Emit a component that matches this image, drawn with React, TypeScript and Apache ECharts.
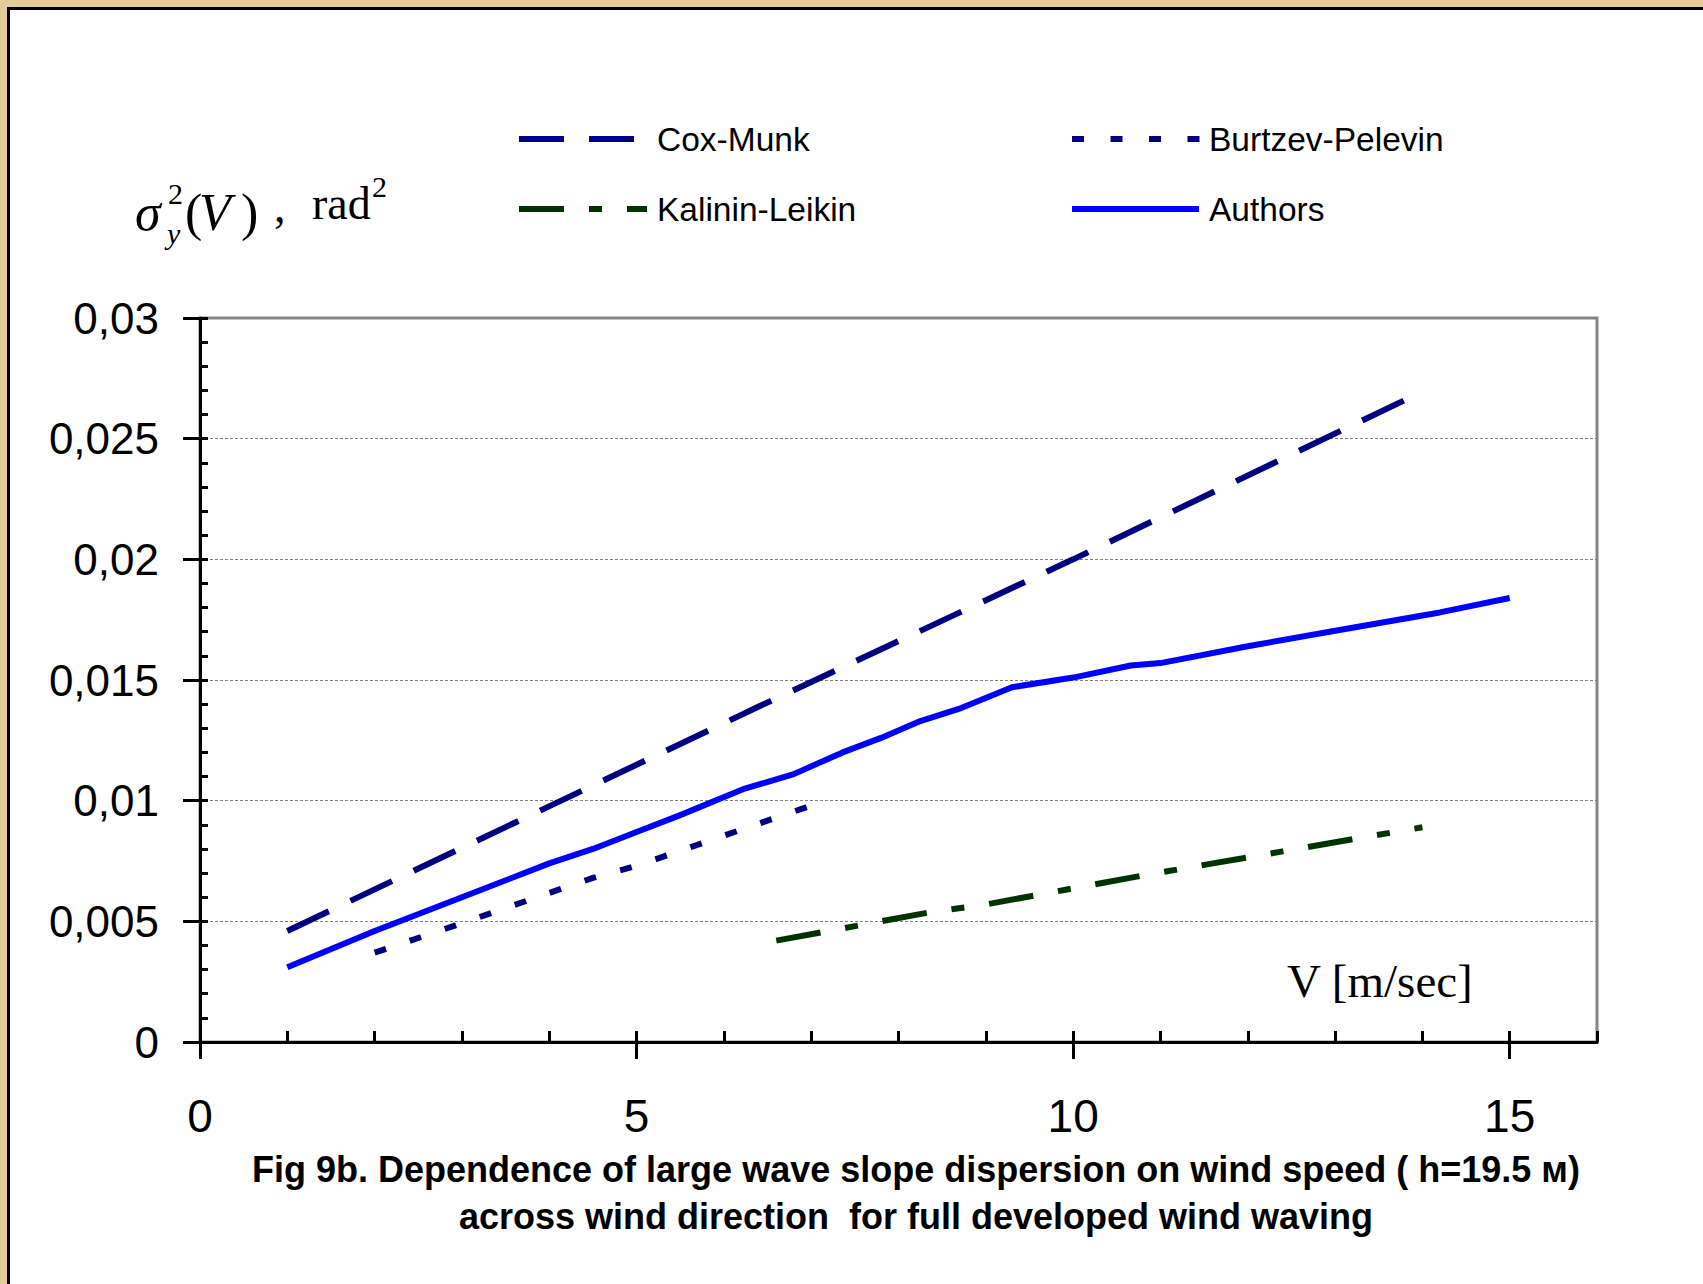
import React, { useEffect, useRef } from 'react';
import * as echarts from 'echarts';

// ---- data ----
const windCoxMunk = [1.0, 6.4, 10.0, 13.8];
const sigmaCoxMunk = [0.0046, 0.0139, 0.02, 0.0266];

const windBurtzev = [2.0, 2.9, 3.3, 3.7, 4.1, 4.5, 5.0, 5.4, 5.8, 6.2, 6.6, 7.0];
const sigmaBurtzev = [0.0037, 0.0048, 0.0053, 0.0058, 0.0063, 0.0068, 0.0073, 0.0078, 0.0083, 0.0088, 0.0093, 0.0098];

const windKalinin = [6.6, 7.5, 8.4, 9.0, 9.9, 10.8, 11.6, 12.4, 13.2, 14.0];
const sigmaKalinin = [0.0042, 0.0048, 0.0054, 0.0057, 0.0063, 0.0069, 0.0074, 0.0079, 0.0084, 0.0089];

const windAuthors = [1.0, 2.0, 3.0, 4.0, 4.5, 5.0, 5.5, 6.24, 6.8, 7.36, 7.8, 8.25, 8.69, 9.3, 10.0, 10.66, 11.0, 12.0, 13.1, 14.2, 15.0];
const sigmaAuthors = [0.0031, 0.0046, 0.006, 0.0074, 0.008, 0.0087, 0.0094, 0.0105, 0.0111, 0.012, 0.0126, 0.0133, 0.0138, 0.0147, 0.0151, 0.0156, 0.0157, 0.0164, 0.0171, 0.0178, 0.0184];

const seriesNames = ['Cox-Munk', 'Burtzev-Pelevin', 'Kalinin-Leikin', 'Authors'];
const xLabelValues = [0, 5, 10, 15];
const xMin = 0;
const xMax = 16;
const yMin = 0;
const yMax = 0.03;
const yStep = 0.005;

const titleLine1 = 'Fig 9b. Dependence of large wave slope dispersion on wind speed ( h=19.5 м)';
const titleLine2 = 'across wind direction  for full developed wind waving';
const xAxisTitle = 'V [m/sec]';

const SANS = '"Liberation Sans", Arial, sans-serif';
const SERIF = '"Liberation Serif", "Times New Roman", serif';

const NAVY = '#000080';
const GREEN = '#003300';
const BLUE = '#0000ff';

const zip = (xs: number[], ys: number[]) => xs.map((x, i) => [x, ys[i]]);

function txt(text: string, x: number, y: number, size: number, opts: any = {}) {
  return {
    type: 'text',
    silent: true,
    x,
    y,
    style: {
      text,
      fill: '#000',
      fontSize: size,
      fontFamily: opts.family || SANS,
      fontWeight: opts.weight || 'normal',
      fontStyle: opts.style || 'normal',
      align: opts.align || 'left',
      textAlign: opts.align || 'left',
      verticalAlign: 'middle',
      textVerticalAlign: 'middle',
    },
  };
}

function legendLine(x1: number, x2: number, y: number, color: string, dash: number[] | null) {
  return {
    type: 'line',
    silent: true,
    shape: { x1, y1: y, x2, y2: y },
    style: { stroke: color, lineWidth: 6, lineDash: dash || undefined, lineCap: 'butt' },
  };
}

export default function App() {
  const ref = useRef<HTMLDivElement>(null);

  useEffect(() => {
    document.body.style.margin = '0';
    const chart = echarts.init(ref.current!, null, { renderer: 'svg' });

    const yFormatter = (v: number) => (v === 0 ? '0' : String(+v.toFixed(4)).replace('.', ','));

    const option: any = {
      animation: false,
      backgroundColor: '#ffffff',
      grid: {
        left: 200,
        top: 318,
        width: 1397,
        height: 724,
        show: true,
        borderColor: '#858585',
        borderWidth: 3,
        backgroundColor: 'transparent',
        containLabel: false,
        outerBoundsMode: 'none',
      },
      xAxis: [
        {
          type: 'value',
          min: xMin,
          max: xMax,
          interval: 1,
          position: 'bottom',
          axisLine: { show: true, onZero: false, lineStyle: { color: '#000', width: 3 } },
          axisTick: { show: true, inside: true, length: 11, lineStyle: { color: '#000', width: 3 } },
          axisLabel: {
            show: true,
            margin: 51,
            fontSize: 46,
            color: '#000',
            fontFamily: SANS,
            formatter: (v: number) => (xLabelValues.indexOf(v) >= 0 ? String(v) : ''),
          },
          splitLine: { show: false },
        },
        {
          type: 'value',
          min: xMin,
          max: xMax,
          interval: 5,
          position: 'bottom',
          axisLine: { show: false },
          axisTick: { show: true, inside: false, length: 17, customValues: xLabelValues, lineStyle: { color: '#000', width: 3 } },
          axisLabel: { show: false },
          splitLine: { show: false },
        },
      ],
      yAxis: [
        {
          type: 'value',
          min: yMin,
          max: yMax,
          interval: yStep,
          position: 'left',
          axisLine: { show: true, onZero: false, lineStyle: { color: '#000', width: 3 } },
          axisTick: { show: true, inside: true, length: 8, lineStyle: { color: '#000', width: 3 } },
          minorTick: { show: true, splitNumber: 5, length: 8, lineStyle: { color: '#000', width: 3 } },
          axisLabel: { margin: 41, fontSize: 44, color: '#000', fontFamily: SANS, formatter: yFormatter },
          splitLine: { show: true, lineStyle: { color: '#808080', width: 1, type: [3, 2] } },
        },
        {
          type: 'value',
          min: yMin,
          max: yMax,
          interval: yStep,
          position: 'left',
          axisLine: { show: false },
          axisTick: { show: true, inside: false, length: 17, lineStyle: { color: '#000', width: 3 } },
          axisLabel: { show: false },
          splitLine: { show: false },
        },
      ],
      series: [
        {
          name: seriesNames[0],
          type: 'line',
          data: zip(windCoxMunk, sigmaCoxMunk),
          symbol: 'none',
          lineStyle: { color: NAVY, width: 6, type: [46, 24], cap: 'butt' },
          itemStyle: { color: NAVY },
          z: 3,
        },
        {
          name: seriesNames[1],
          type: 'line',
          data: zip(windBurtzev, sigmaBurtzev),
          symbol: 'none',
          lineStyle: { color: NAVY, width: 6, type: [12, 25], cap: 'butt' },
          itemStyle: { color: NAVY },
          z: 3,
        },
        {
          name: seriesNames[2],
          type: 'line',
          data: zip(windKalinin, sigmaKalinin),
          symbol: 'none',
          lineStyle: { color: GREEN, width: 6, type: [45, 25, 13, 25], cap: 'butt' },
          itemStyle: { color: GREEN },
          z: 3,
        },
        {
          name: seriesNames[3],
          type: 'line',
          data: zip(windAuthors, sigmaAuthors),
          symbol: 'none',
          lineStyle: { color: BLUE, width: 6, type: 'solid', cap: 'butt', join: 'round' },
          itemStyle: { color: BLUE },
          z: 4,
        },
      ],
      graphic: [
        // parchment frame strips and black frame edge
        { type: 'rect', silent: true, shape: { x: 0, y: 0, width: 1703, height: 7 }, style: { fill: '#e2cb98' } },
        { type: 'rect', silent: true, shape: { x: 0, y: 0, width: 7, height: 1284 }, style: { fill: '#e2cb98' } },
        { type: 'rect', silent: true, shape: { x: 7, y: 7, width: 1696, height: 3 }, style: { fill: '#000' } },
        { type: 'rect', silent: true, shape: { x: 7, y: 7, width: 3, height: 1277 }, style: { fill: '#000' } },

        // legend
        legendLine(519, 634, 139, NAVY, [45, 25]),
        txt(seriesNames[0], 657, 139, 33.5),
        legendLine(519, 647, 209, GREEN, [45, 25, 13, 25]),
        txt(seriesNames[2], 657, 209, 33.5),
        legendLine(1072, 1200, 139, NAVY, [12, 26.5]),
        txt(seriesNames[1], 1209, 139, 33.5),
        legendLine(1072, 1199, 209, BLUE, null),
        txt(seriesNames[3], 1209, 209, 33.5),

        // y-axis name: sigma_y^2(V) , rad^2
        txt('σ', 135, 212, 52, { family: SERIF, style: 'italic' }),
        txt('y', 167, 233, 30, { family: SERIF, style: 'italic' }),
        txt('2', 168, 193, 30, { family: SERIF }),
        txt('(', 185, 212, 52, { family: SERIF }),
        txt('V', 199, 212, 52, { family: SERIF, style: 'italic' }),
        txt(')', 241, 212, 52, { family: SERIF }),
        txt(',', 274, 206, 46, { family: SERIF }),
        txt('rad', 312, 203, 46, { family: SERIF }),
        txt('2', 372, 186, 30, { family: SERIF }),

        // x-axis name
        txt(xAxisTitle, 1287, 981, 47, { family: SERIF }),

        // caption
        txt(titleLine1, 916, 1169, 36, { weight: 'bold', align: 'center' }),
        txt(titleLine2, 916, 1216, 36, { weight: 'bold', align: 'center' }),
      ],
    };

    chart.setOption(option);
    return () => chart.dispose();
  }, []);

  return <div ref={ref} style={{ position: 'absolute', left: 0, top: 0, width: 1703, height: 1284 }} />;
}
